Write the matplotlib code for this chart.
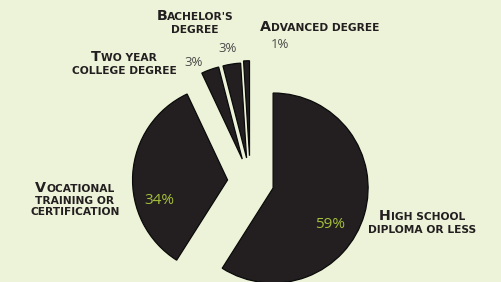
import matplotlib
matplotlib.use("Agg")
import matplotlib.pyplot as plt
from matplotlib.offsetbox import TextArea, HPacker, VPacker, AnnotationBbox

# ---- data ----
categories = ["High school\ndiploma or less",
              "Vocational\ntraining or\ncertification",
              "Two year\ncollege degree",
              "Bachelor's\ndegree",
              "Advanced degree"]
values = [59, 34, 3, 3, 1]
pct_labels = ["59%", "34%", "3%", "3%", "1%"]

BG = "#edf3d8"
DARK = "#231f20"
GREEN = "#a6c03a"
GRAY = "#4a4a4a"

W, H = 501, 282
fig = plt.figure(figsize=(W / 100, H / 100), dpi=100, facecolor=BG)
ax = fig.add_axes([0, 0, 1, 1])
ax.set_facecolor(BG)

explode = [0.25, 0.24, 0.25, 0.25, 0.27]
wedges, _ = ax.pie(values, explode=explode, startangle=90, counterclock=False,
                   radius=1.0, colors=[DARK] * len(values),
                   wedgeprops=dict(edgecolor="#0a0a0a", linewidth=0.9))

# pie centre in pixels and radius in pixels
cx, cy, R = 250.3, 181.4, 95.0
ax.set_xlim((0 - cx) / R, (W - cx) / R)
ax.set_ylim((cy - H) / R, (cy - 0) / R)
ax.set_aspect("equal", adjustable="box")
ax.axis("off")


def fig_xy(px, py):
    return px / W, 1 - py / H


LFONT = "DejaVu Sans"
big = dict(family=LFONT, fontweight="bold", fontsize=10.3, color=DARK)
small = dict(family=LFONT, fontweight="bold", fontsize=7.7, color=DARK)


def sc_line(s):
    if s[0].isupper():
        kids = [TextArea(s[0], textprops=big), TextArea(s[1:].upper(), textprops=small)]
    else:
        kids = [TextArea(s.upper(), textprops=small)]
    return HPacker(children=kids, align="baseline", pad=0, sep=0)


label_pos = [(422, 222), (75, 199), (124, 63), (195, 22), (320, 27)]
for text, (px, py) in zip(categories, label_pos):
    lines = [sc_line(l) for l in text.split("\n")]
    box = VPacker(children=lines, align="center", pad=0, sep=1.0)
    ab = AnnotationBbox(box, fig_xy(px, py), xycoords="figure fraction",
                        frameon=False, box_alignment=(0.5, 0.5), pad=0)
    ax.add_artist(ab)

PFONT = "Open Sans"
pct_pos = [(330, 224), (159, 200), (194, 62), (228, 49), (280, 44)]
pct_style = [(GREEN, 11), (GREEN, 11), (GRAY, 9.5), (GRAY, 9.5), (GRAY, 9.5)]
for t, (px, py), (c, s) in zip(pct_labels, pct_pos, pct_style):
    fx, fy = fig_xy(px, py)
    fig.text(fx, fy, t, ha="center", va="center", color=c, fontsize=s, family=PFONT)

fig.savefig("out.png", dpi=100, facecolor=BG)
